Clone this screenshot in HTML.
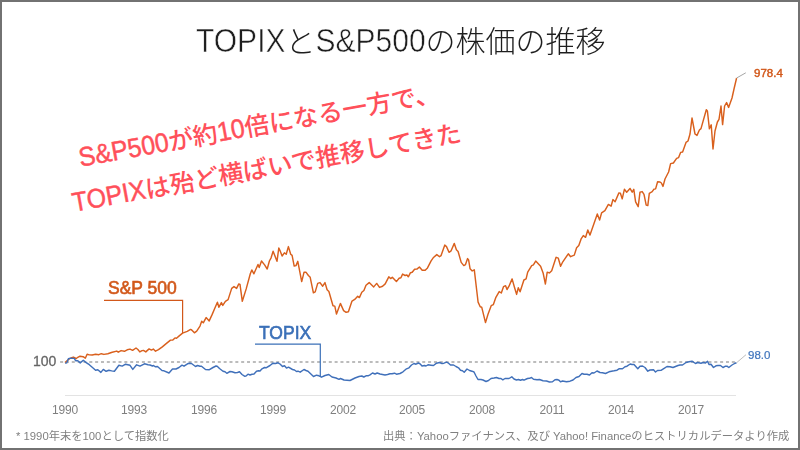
<!DOCTYPE html>
<html lang="ja"><head><meta charset="utf-8"><title>TOPIXとS&amp;P500の株価の推移</title>
<style>
html,body{margin:0;padding:0;}
body{width:800px;height:450px;overflow:hidden;background:#fff;position:relative;font-family:"Liberation Sans","Noto Sans CJK JP",sans-serif;}
#frame{position:absolute;left:0;top:0;width:796px;height:446px;border:2px solid #727272;background:#fff;}
.t{position:absolute;white-space:nowrap;line-height:1;will-change:transform;}
#title{left:196px;top:27px;font-size:30px;color:#1e1e1e;font-weight:400;letter-spacing:0px;}
#title .L{display:inline-block;transform:scaleY(1.085);transform-origin:0 80%;-webkit-text-stroke:0.5px #fff;}
#title .j{font-family:"Liberation Sans","Noto Sans CJK JP",sans-serif;font-weight:300;}
#msg{position:absolute;left:53px;top:103.7px;width:420px;text-align:center;color:#FF505A;font-weight:500;font-size:24.85px;line-height:43.2px;transform-origin:50% 50%;transform:rotate(-10.3deg);white-space:nowrap;}
.xl{position:absolute;top:404px;font-size:12px;color:#7f7f7f;width:40px;text-align:center;line-height:1;letter-spacing:-0.2px;will-change:transform;}
#y100{left:32.8px;top:354.3px;font-size:14px;color:#666;-webkit-text-stroke:0.3px #666;}
#splab{left:108px;top:280.4px;font-size:17.5px;font-weight:400;color:#D2581A;-webkit-text-stroke:0.6px #D2581A;}
#tplab{left:259px;top:324.6px;font-size:17.5px;font-weight:400;color:#3B70B8;-webkit-text-stroke:0.6px #3B70B8;}
#spv{left:753.8px;top:68px;font-size:11.5px;font-weight:400;color:#D2581A;-webkit-text-stroke:0.45px #D2581A;}
#tpv{left:748px;top:350px;font-size:11.5px;color:#3F74BC;-webkit-text-stroke:0.2px #3F74BC;}
#note{left:15.5px;top:430.8px;font-size:11.3px;color:#808080;}
#src{left:383px;top:430.8px;font-size:11.3px;color:#808080;}
svg{position:absolute;left:0;top:0;}
#msg b{display:inline-block;transform:scaleY(1.08);transform-origin:0 75%;font-weight:400;letter-spacing:0px;-webkit-text-stroke:0.45px #FF505A;}
</style></head><body>
<div id="frame"></div>
<svg width="800" height="450" viewBox="0 0 800 450">
<line x1="65" y1="395.5" x2="736" y2="395.5" stroke="#E3E3E3" stroke-width="1"/>
<line x1="60.1" y1="362" x2="736" y2="362" stroke="#A6A6A6" stroke-width="1.6" stroke-dasharray="3 2.841"/>
<polyline points="104,300.3 182.6,300.3 182.6,333" fill="none" stroke="#D2581A" stroke-width="1.2"/>
<polyline points="255,344.2 320.3,344.2 320.3,376.7" fill="none" stroke="#3B70B8" stroke-width="1.2"/>
<path d="M65,362.6 L66.7,361.1 L68.5,359.5 L71,358 L73.3,357.1 L74.7,357.6 L76,358.7 L77.8,357.3 L80,356.2 L83.1,356.7 L85.3,358.2 L87.1,354.2 L89.3,354.9 L92.2,355 L95.6,354.2 L98.9,354.7 L101.3,353.7 L103.9,354.4 L107.8,353.7 L112.2,352.2 L116.7,351.1 L118.3,352.2 L121.1,350.6 L124.4,351.3 L127.2,349.8 L130,349.1 L132.6,350.3 L136,348 L137.9,349.5 L139.8,351.9 L142,350.6 L143.5,350.4 L145.8,351.9 L149.1,348.9 L151.4,350.1 L153.3,349.1 L155.5,351.2 L158.5,349.7 L162.3,346.9 L166.8,343.1 L170.5,340.1 L172.8,340.1 L175,337.9 L176.5,338.3 L179.5,335.6 L182.6,333.1 L187.2,331.4 L190.6,329.4 L191.7,330 L194.4,332.8 L196.7,331.1 L200,326.1 L201.7,321.3 L203.3,322.8 L206.1,317.6 L209.2,320.9 L212.2,314.4 L214.8,308.3 L217.4,302.2 L218.9,307.2 L221.4,302.6 L222.8,305.4 L225.4,301.3 L228.1,299.6 L231.7,288.4 L234,286.6 L236.6,288.4 L238.8,283.9 L240,284.4 L242.3,301.3 L246.2,288.9 L250.3,273.8 L251.8,269.9 L253.9,273.8 L258,264.5 L259.2,267.6 L261.5,261 L264.6,264.9 L267.2,269 L269.4,261 L271.1,257.8 L273.1,251.2 L277,261.3 L278.8,248 L280,250.6 L282.1,256 L284.4,252.8 L286.2,254.2 L288.4,246.6 L290.7,254.2 L292.1,255.4 L294.2,266.1 L296,265.6 L297.8,261.3 L301.7,281.6 L304,272.3 L306.1,272.3 L308.4,275.5 L310.2,277.3 L313.4,292.8 L315.2,291.9 L317.7,283.4 L320,282.6 L322.7,286.2 L325,282.6 L327.1,289.8 L328.9,291.5 L333,305.8 L334.8,306.1 L336.5,314.1 L340.4,303.4 L343.6,310.6 L346.1,312.3 L348.4,311.8 L352,301.1 L354.7,299.4 L357.7,296.3 L359.4,297.6 L361.8,292.2 L363.9,290.5 L366,285.3 L369.2,282.6 L373.7,286.9 L376.7,283.4 L379.5,287.4 L382.6,286.2 L385.2,283.9 L388.8,276.8 L390.6,278.6 L392.3,277.3 L396.4,281.6 L399.1,278.2 L400.9,277.7 L402.6,274.1 L405.1,275.5 L406.9,275 L408.3,276.8 L410.5,272.7 L412.2,272.3 L414.6,269.3 L416.9,269.1 L419.4,267 L422.2,270.2 L425.2,270.2 L427.5,267.9 L431.1,260.8 L433.2,257.8 L436.8,254.6 L439.5,256.7 L441,255.7 L444.8,245.1 L446.5,246.6 L449,252.3 L451.1,250.8 L454.3,243.4 L456.4,249.8 L458.1,251.5 L461.2,262.4 L463.8,265.6 L465.5,264.6 L467.6,258.6 L468.6,259.9 L470.1,268.8 L472.2,270.9 L474.3,269.8 L476.9,292 L478.1,302.1 L480.2,306.8 L481.7,307.2 L485.5,322.6 L488,314.2 L491.2,305.7 L493.3,304.7 L495.9,297.3 L499.2,291.6 L501.3,293 L503.5,286.7 L505.6,285.7 L507,289.5 L509,286.2 L512.1,278.9 L514.3,286.7 L516.6,294.4 L518.3,287.8 L520.1,291.8 L523.9,280 L526.1,278.9 L527.7,272.2 L531.7,265.6 L533.4,264.9 L535.7,261.1 L540.6,266.2 L543.2,273.3 L545.4,284 L547.2,272.2 L549.4,272.9 L551.7,270.7 L556.1,257.3 L558.3,258.2 L560.6,266.2 L562.8,261.8 L568.3,253.8 L570.6,256.7 L574.3,255.1 L576.6,247.8 L578.8,245.6 L581.1,238.9 L583.3,235.6 L585.6,237.3 L587.8,230 L590,235.1 L593.3,225.6 L597.3,214 L599.6,220 L601.6,212.9 L604.9,210.7 L608.4,204.4 L611.1,206.2 L612.9,199.6 L615.1,201.8 L618.9,192.9 L620.4,193.3 L622.2,198.9 L624.4,189.3 L626.7,192.2 L630,188.4 L632.2,192.2 L633.8,189.3 L635.6,201.8 L638.2,206.7 L640,192.2 L642.2,191.6 L644,194.4 L646.2,205.1 L647.8,205.6 L649.3,193.3 L652.2,191.6 L653.8,189.3 L655.6,188.9 L657.6,181.7 L660,182 L661.4,183 L663,186.4 L665,179 L668.6,172 L670.6,163.6 L673.4,163 L676.6,158.4 L678.6,157.6 L680.6,152.4 L682.6,152 L686,142.4 L688,141 L690,134 L692,118 L695,134 L697,135.4 L699.4,130 L701,128.6 L706.3,109.7 L707.4,111 L709.4,128.8 L711.2,124.8 L713,149 L715,131 L717.4,122 L719,119.4 L721,106 L722.6,124.6 L724.6,106 L726.6,102.6 L728.6,107.4 L732,98 L734,89 L736.6,78" fill="none" stroke="#D9601D" stroke-width="1.45" stroke-linejoin="round"/>
<path d="M65.2,363.3 L66.7,362.9 L68.4,358.7 L70.2,358.2 L74.2,358.4 L75.6,360.7 L77.8,360.7 L80.2,362.9 L83.3,360.2 L85.8,362.4 L89.3,364.7 L92.2,367.2 L95.6,370.2 L97.8,369.8 L100.9,372.4 L103.3,369.4 L106.1,371.3 L108.9,370.3 L111.7,370.9 L114.4,371.3 L118.9,365.3 L122.2,366.1 L125.6,364.2 L130,365.3 L132.8,369.4 L136.6,364.8 L140,366.2 L144.5,363.8 L148,364.8 L150,365 L152.5,366 L153.5,365.5 L155.5,366.8 L157.5,366.5 L162,370.5 L164,370.8 L169,373 L172.5,369 L176,369 L179,367.5 L182,365.2 L184,366.2 L187.5,363.8 L189.5,363.2 L191.5,363.5 L195.5,366.5 L197.5,365.5 L200,366.2 L201.5,366.2 L205.5,369.5 L209,369.8 L213,367.5 L216,366 L217.2,366.2 L219.5,368.5 L223,371.2 L225,371.8 L226.8,373.3 L230,371.5 L232,371.8 L235,372.8 L237.5,372.5 L239.5,371.8 L242,374.5 L244.5,376.2 L246,376 L248,374.2 L250,375 L252,374.3 L254,374 L256.5,371.2 L258.5,370.8 L260,371 L262,368.8 L264.5,367.5 L266,367.8 L270,365.5 L273,363.2 L275.5,363.5 L278,362.8 L280,364 L282.5,366.5 L284.5,365.8 L286.5,368.1 L288.5,367.2 L292.5,369.5 L294.5,370 L296.5,371.5 L298,371.2 L300.2,372.2 L304,369.5 L306,370.5 L308,371.2 L313.5,376.5 L316.5,375.2 L319,375.8 L321.5,377.2 L325,375.5 L328.8,374.5 L332,377 L336,378 L339,379.3 L340.5,378.5 L344,380 L347,380.2 L350,380.5 L352,379.5 L355,378 L359,376.5 L361.8,376 L363.8,377 L366,375.8 L368,375.8 L370,374.8 L372.5,373 L375,374 L377.2,373 L380,374 L385,375 L387.5,374.5 L390,373.8 L392,373.8 L394.5,373.2 L396.5,374.2 L400,373.5 L403,371.8 L406.5,368.8 L409,367.8 L411.5,365 L414,363.5 L416,364.2 L418.5,363 L420,363.8 L422,366 L424.5,365.5 L426,366 L428,364.8 L431,365.2 L433.5,365.5 L436.5,363.2 L439.5,362.5 L442,363.5 L444,363.2 L446.5,362.2 L448,362.8 L450.5,365 L453.5,365 L456,366.5 L458.5,367.8 L460.5,370.2 L462.5,370.8 L464.2,372.2 L467,369 L469.5,370.5 L472,371.2 L474,372 L476,376 L478,379.5 L481,379.5 L483,380 L486,381.5 L488.5,380.5 L491,378.5 L494,378 L496.5,377.5 L499,378.5 L501,378.5 L502.8,379.8 L505,378.5 L509,378.5 L511.8,376.8 L514,379 L516.5,380 L518.5,379.5 L520.5,380.2 L522.5,379.5 L524,380.2 L527.5,378.5 L529.5,378.3 L531.5,377.5 L533.5,379.2 L537,379.8 L539.5,379.5 L543,380.8 L546.5,381 L549.5,382 L552.5,381.8 L555,379.8 L557,379.5 L559,380.2 L560.5,381.8 L562.5,381 L566.5,381.8 L570,381.2 L573,380 L576,377.5 L579,376.5 L582,373.5 L584,374.2 L587,374.2 L589.5,375 L592,372.8 L594,373 L597,371 L600,372.5 L602.5,372.8 L605.5,373.5 L609,371.8 L611.5,371.2 L614,370.8 L617,370.2 L619,368.8 L622.5,368.8 L625,366.8 L627,366.2 L630.2,364 L632,364.5 L634,364.5 L637.8,368.8 L640,366.2 L642.5,366 L645,367.5 L647.8,371.2 L650,370 L653.5,369.8 L655.5,372 L657.5,370.5 L661,370.4 L664.5,368.2 L667,366.5 L670,366.8 L673,367.5 L675.5,366.5 L678,365.5 L680,365 L682.5,365 L686,362.5 L689,361.8 L692,361.2 L695.5,363.5 L697.5,362.5 L701,363.2 L703,362.5 L705.5,363 L707.5,361.2 L709,364.5 L711,364.2 L713.5,367.5 L716,365.8 L718,365.5 L720.5,365.5 L723,367.5 L725.5,366.2 L727,366.2 L728.8,367.5 L732,365 L734.5,363.5 L736.5,362.8" fill="none" stroke="#4070BA" stroke-width="1.45" stroke-linejoin="round"/>
<polyline points="736.6,78 745.8,72.8" fill="none" stroke="#A6A6A6" stroke-width="1"/>
<polyline points="736.5,362.8 746,354.7" fill="none" stroke="#BFBFBF" stroke-width="1"/>
</svg>
<div class="t" id="title"><span class="L">TOPIX</span><span class="j">と</span><span class="L">S&amp;P500</span><span class="j">の株価の推移</span></div>
<div id="msg"><b>S&amp;P500</b>が約<b>10</b>倍になる一方で、<br><b>TOPIX</b>は殆ど横ばいで推移してきた</div>
<div class="t" id="y100">100</div>
<div class="xl" style="left:45px">1990</div>
<div class="xl" style="left:114px">1993</div>
<div class="xl" style="left:184px">1996</div>
<div class="xl" style="left:253px">1999</div>
<div class="xl" style="left:323px">2002</div>
<div class="xl" style="left:392px">2005</div>
<div class="xl" style="left:462px">2008</div>
<div class="xl" style="left:532px">2011</div>
<div class="xl" style="left:601px">2014</div>
<div class="xl" style="left:671px">2017</div>
<div class="t" id="splab">S&amp;P 500</div>
<div class="t" id="tplab">TOPIX</div>
<div class="t" id="spv">978.4</div>
<div class="t" id="tpv">98.0</div>
<div class="t" id="note">* 1990年末を100として指数化</div>
<div class="t" id="src">出典：Yahooファイナンス、及び Yahoo! Financeのヒストリカルデータより作成</div>
</body></html>
